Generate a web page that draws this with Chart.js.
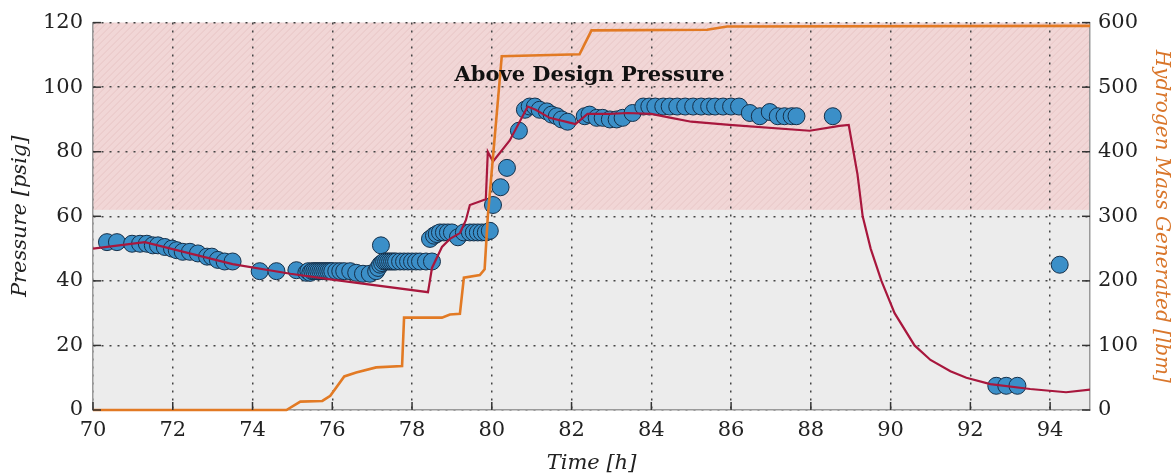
<!DOCTYPE html>
<html>
<head>
<meta charset="utf-8">
<script src="https://cdn.jsdelivr.net/npm/chart.js@4"></script>
<style>
  body { margin: 0; background: #fff; }
  #wrap { width: 1173px; height: 476px; }
</style>
</head>
<body>
<div id="wrap"><canvas id="pressureChart"></canvas></div>
<script>
// time ticks [h]
const xTicks = [70, 72, 74, 76, 78, 80, 82, 84, 86, 88, 90, 92, 94];
const designPressure = 62; // psig, shaded above
const noteText = 'Above Design Pressure';
const notePos = [82.45, 103.5];

// measured pressure [h, psig]
const measured = [
  [70.35,52],[70.6,52],[70.98,51.5],[71.18,51.5],[71.35,51.5],[71.5,51],[71.63,51],[71.8,50.5],
  [71.98,50],[72.1,49.5],[72.25,49],[72.43,49],[72.63,48.5],[72.86,47.5],[72.98,47.5],[73.13,46.5],
  [73.3,46],[73.5,46],[74.18,43],[74.6,43],[75.1,43.3],
  [75.35,42.5],[75.4,43],[75.45,42.5],[75.5,43],[75.55,43],[75.6,43],[75.65,43],[75.7,43],[75.75,43],
  [75.8,43],[75.85,43],[75.9,43],[75.95,43],[76.0,43],[76.1,43],[76.2,43],[76.3,43],[76.45,43],
  [76.6,42.5],[76.77,42.2],[76.94,42.2],[77.1,43],[77.15,44],[77.2,45],[77.22,51],
  [77.25,45.5],[77.3,46],[77.35,46],[77.4,46],[77.45,46],[77.5,46],[77.55,46],[77.6,46],[77.7,46],
  [77.8,46],[77.9,46],[78.0,46],[78.1,46],[78.2,46],[78.35,46],[78.5,46],
  [78.45,53],[78.55,54],[78.62,54.5],[78.7,55],[78.8,55],[78.9,55],[79.0,55],[79.15,53.5],[79.3,55],
  [79.45,55],[79.55,55],[79.65,55],[79.75,55],[79.85,55],[79.95,55.5],
  [80.03,63.5],[80.22,69],[80.38,75],[80.68,86.5],[80.83,93],[80.95,94],[81.08,94],[81.2,93],
  [81.38,92.5],[81.5,91.5],[81.63,91],[81.75,90],[81.9,89.3],[82.33,91],[82.45,91.5],[82.63,90.5],
  [82.78,90.5],[82.96,90],[83.13,90],[83.28,90.5],[83.53,92],[83.8,94],[83.95,94],[84.1,94],
  [84.3,94],[84.46,94],[84.65,94],[84.85,94],[85.05,94],[85.25,94],[85.45,94],[85.6,94],[85.8,94],
  [86.0,94],[86.2,94],[86.47,92],[86.72,91],[86.97,92.3],[87.17,91],[87.34,91],[87.52,91],
  [87.64,91],[88.55,91],[92.65,7.5],[92.9,7.5],[93.18,7.5],[94.24,45]
];

// model pressure [h, psig]
const modelPressure = [
  [70,50],[71.3,52],[73.5,45.2],[74.95,42.2],[76,40.4],[78.4,36.5],[78.5,44],[78.75,50.5],
  [78.95,53],[79.2,54.8],[79.35,58.8],[79.45,63.5],[79.85,65.3],[79.9,80],[80.03,77],[80.45,83.5],
  [80.9,94],[81.1,93],[81.45,90.5],[81.95,89],[82.1,88.6],[82.4,91.7],[82.95,91.7],[83.4,92],
  [84,91.7],[84.5,90.5],[85.0,89.3],[85.96,88.3],[87.97,86.5],[88.72,88],[88.95,88.3],[89.17,73],
  [89.3,60],[89.5,50],[89.77,40],[90.1,30],[90.6,20],[91.0,15.5],[91.5,12],[91.9,10],[92.5,8],
  [93.5,6.5],[94.4,5.5],[95,6.3]
];

// hydrogen mass generated [h, lbm]
const hydrogenMass = [
  [70,0],[74.85,0],[75.2,13],[75.75,14],[75.95,22],[76.3,52],[76.6,58],[77.1,66],[77.75,68],
  [77.8,143],[78.75,143],[78.95,148],[79.2,149],[79.3,205],[79.7,209],[79.82,218],[79.9,300],
  [80.25,548],[82.2,551],[82.5,588],[85.4,589],[85.9,594],[95,595]
];

const pts = arr => arr.map(([x, y]) => ({ x, y }));
const serif = '"DejaVu Serif", "Liberation Serif", serif';

const backdrop = {
  id: 'backdrop',
  beforeDraw(chart) {
    const { ctx, chartArea: a, scales } = chart;
    const yDesign = scales.y.getPixelForValue(designPressure);
    ctx.save();
    ctx.fillStyle = '#ececec';
    ctx.fillRect(a.left, a.top, a.width, a.height);
    ctx.fillStyle = '#f1d6d6';
    ctx.fillRect(a.left, a.top, a.width, yDesign - a.top);
    // faint hatching in the shaded band
    ctx.beginPath();
    ctx.rect(a.left, a.top, a.width, yDesign - a.top);
    ctx.clip();
    ctx.strokeStyle = 'rgba(215,170,170,0.35)';
    ctx.lineWidth = 1;
    const h = yDesign - a.top;
    for (let x = a.left - h; x < a.right; x += 7) {
      ctx.beginPath();
      ctx.moveTo(x, yDesign);
      ctx.lineTo(x + h, a.top);
      ctx.stroke();
    }
    ctx.restore();
  },
  afterDraw(chart) {
    const { ctx, chartArea: a, scales } = chart;
    ctx.save();
    ctx.strokeStyle = '#333';
    ctx.lineWidth = 1.5;
    scales.x.ticks.forEach(t => {
      const px = scales.x.getPixelForValue(t.value);
      ctx.beginPath(); ctx.moveTo(px, a.bottom); ctx.lineTo(px, a.bottom - 8); ctx.stroke();
    });
    scales.y.ticks.forEach(t => {
      const py = scales.y.getPixelForValue(t.value);
      ctx.beginPath(); ctx.moveTo(a.left, py); ctx.lineTo(a.left + 8, py); ctx.stroke();
      ctx.beginPath(); ctx.moveTo(a.right, py); ctx.lineTo(a.right - 8, py); ctx.stroke();
    });
    ctx.font = 'bold 21px ' + serif;
    ctx.fillStyle = '#111';
    ctx.textAlign = 'center';
    ctx.textBaseline = 'middle';
    ctx.fillText(noteText, scales.x.getPixelForValue(notePos[0]), scales.y.getPixelForValue(notePos[1]));
    ctx.restore();
  }
};

new Chart(document.getElementById('pressureChart'), {
  type: 'scatter',
  data: {
    datasets: [
      {
        label: 'Measured pressure',
        data: pts(measured),
        yAxisID: 'y',
        pointRadius: 8.5,
        pointBackgroundColor: '#3b8fc8',
        pointBorderColor: '#15304a',
        pointBorderWidth: 1,
        order: 3
      },
      {
        label: 'Model pressure',
        type: 'line',
        data: pts(modelPressure),
        yAxisID: 'y',
        borderColor: '#a8173d',
        borderWidth: 2.2,
        pointRadius: 0,
        tension: 0,
        order: 2
      },
      {
        label: 'Hydrogen mass',
        type: 'line',
        data: pts(hydrogenMass),
        yAxisID: 'y2',
        borderColor: '#e27a24',
        borderWidth: 2.6,
        pointRadius: 0,
        tension: 0,
        clip: 4,
        order: 1
      }
    ]
  },
  options: {
    responsive: true,
    maintainAspectRatio: false,
    animation: false,
    layout: { padding: { top: 20, left: 0, right: 0, bottom: 0 } },
    plugins: { legend: { display: false }, tooltip: { enabled: false } },
    scales: {
      x: {
        type: 'linear',
        min: 70, max: 95,
        afterBuildTicks: s => { s.ticks = xTicks.map(v => ({ value: v })); },
        afterFit: s => { s.height = 66; },
        grid: { color: '#444', lineWidth: 1.5, drawTicks: false },
        border: { display: true, color: '#9a9a9a', width: 1.5, dash: [2, 6] },
        ticks: { padding: 8, color: '#222', font: { family: serif, size: 21 } },
        title: { display: true, text: 'Time [h]', color: '#222', padding: { top: 0, bottom: 0 },
                 font: { family: serif, size: 21, style: 'italic' } }
      },
      y: {
        position: 'left',
        min: 0, max: 120,
        ticks: { stepSize: 20, padding: 10, color: '#222', font: { family: serif, size: 21 } },
        afterFit: s => { s.width = 93; },
        grid: { color: '#444', lineWidth: 1.5, drawTicks: false },
        border: { display: true, color: '#9a9a9a', width: 1.5, dash: [2, 6] },
        title: { display: true, text: 'Pressure [psig]', color: '#222', padding: { top: 8, bottom: 0 },
                 font: { family: serif, size: 21, style: 'italic' } }
      },
      y2: {
        position: 'right',
        min: 0, max: 600,
        ticks: { stepSize: 100, padding: 8, color: '#222', font: { family: serif, size: 21 } },
        afterFit: s => { s.width = 83; },
        grid: { drawOnChartArea: false, drawTicks: false },
        border: { display: true, color: '#9a9a9a', width: 1.5 },
        title: { display: true, text: 'Hydrogen Mass Generated [lbm]', color: '#d9762b', padding: { top: 0, bottom: 4 },
                 font: { family: serif, size: 20, style: 'italic' } }
      }
    }
  },
  plugins: [backdrop]
});
</script>
</body>
</html>
